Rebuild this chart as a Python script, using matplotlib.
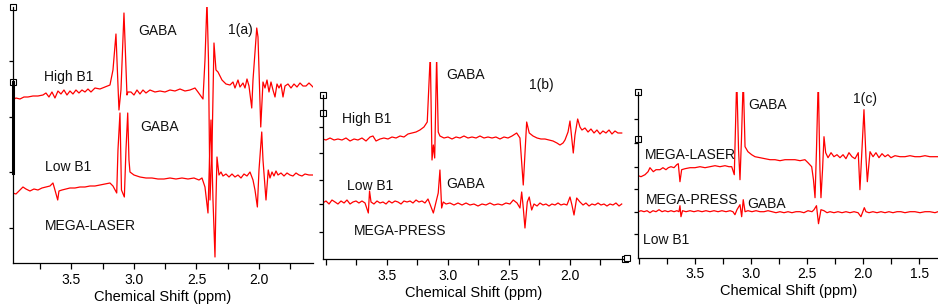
import matplotlib
matplotlib.use('Agg')
import matplotlib.pyplot as plt
from matplotlib.ticker import FixedLocator, FormatStrFormatter

plt.rcParams['font.family'] = ['Liberation Sans', 'DejaVu Sans']

# ---------------- data: (ppm, intensity a.u.) ----------------
# Panel 1(a)  MEGA-LASER, High B1 and Low B1
a_high = [(3.970, 163), (3.944, 165), (3.912, 164), (3.880, 166), (3.848, 166), (3.808, 167),
          (3.768, 167), (3.728, 168), (3.704, 170), (3.680, 166), (3.656, 171), (3.632, 165),
          (3.608, 172), (3.584, 169), (3.560, 173), (3.536, 168), (3.512, 172), (3.488, 169),
          (3.464, 173), (3.440, 170), (3.416, 173), (3.392, 171), (3.368, 174), (3.344, 171),
          (3.312, 175), (3.272, 174), (3.232, 176), (3.192, 178), (3.168, 193), (3.144, 229),
          (3.136, 203), (3.120, 153), (3.104, 173), (3.080, 250), (3.072, 223), (3.056, 168),
          (3.048, 171), (3.024, 171), (3.000, 168), (2.976, 173), (2.952, 169), (2.928, 173),
          (2.904, 170), (2.872, 173), (2.832, 171), (2.792, 172), (2.752, 171), (2.712, 173),
          (2.672, 172), (2.632, 174), (2.592, 172), (2.552, 173), (2.512, 175), (2.488, 171),
          (2.448, 164), (2.432, 203), (2.416, 262), (2.404, 203), (2.392, 63), (2.376, 113),
          (2.360, 220), (2.344, 193), (2.328, 191), (2.296, 183), (2.264, 179), (2.232, 178),
          (2.208, 181), (2.192, 175), (2.168, 183), (2.152, 176), (2.128, 180), (2.112, 175),
          (2.096, 184), (2.080, 177), (2.058, 155), (2.048, 183), (2.018, 235), (2.008, 226),
          (1.986, 136), (1.968, 181), (1.952, 175), (1.936, 183), (1.920, 171), (1.904, 181),
          (1.888, 173), (1.872, 166), (1.856, 179), (1.840, 175), (1.824, 179), (1.808, 166),
          (1.792, 177), (1.768, 179), (1.744, 175), (1.720, 179), (1.696, 176), (1.672, 180),
          (1.648, 177), (1.624, 177), (1.600, 180), (1.568, 176)]

a_low = [(3.970, 70), (3.944, 69), (3.920, 72), (3.888, 76), (3.864, 74), (3.832, 72),
         (3.800, 74), (3.768, 73), (3.736, 75), (3.704, 76), (3.672, 77), (3.648, 80),
         (3.632, 73), (3.610, 63), (3.600, 72), (3.576, 73), (3.544, 74), (3.512, 75),
         (3.472, 75), (3.432, 76), (3.392, 76), (3.352, 77), (3.312, 77), (3.272, 78),
         (3.232, 79), (3.192, 80), (3.168, 77), (3.138, 70), (3.128, 113), (3.112, 150),
         (3.100, 73), (3.077, 66), (3.064, 113), (3.050, 150), (3.040, 103), (3.032, 91),
         (3.000, 88), (2.952, 86), (2.904, 85), (2.856, 85), (2.808, 84), (2.760, 84),
         (2.712, 85), (2.664, 84), (2.616, 85), (2.568, 84), (2.520, 85), (2.480, 83),
         (2.456, 85), (2.432, 76), (2.408, 50), (2.396, 103), (2.384, 143), (2.368, 63),
         (2.352, 6), (2.344, 63), (2.336, 106), (2.320, 88), (2.304, 91), (2.288, 87),
         (2.264, 89), (2.240, 86), (2.216, 89), (2.192, 86), (2.168, 88), (2.144, 85),
         (2.120, 89), (2.096, 87), (2.072, 91), (2.048, 83), (2.032, 73), (2.013, 56),
         (2.000, 93), (1.978, 131), (1.968, 103), (1.944, 63), (1.926, 93), (1.912, 85),
         (1.896, 91), (1.880, 87), (1.864, 92), (1.848, 88), (1.824, 90), (1.800, 87),
         (1.776, 90), (1.752, 88), (1.728, 87), (1.704, 90), (1.680, 88), (1.656, 87),
         (1.632, 89), (1.600, 88), (1.568, 88)]

# Panel 1(b)  MEGA-PRESS, High B1 and Low B1
b_high = [(4.027, 120), (4.000, 119), (3.967, 121), (3.934, 119), (3.902, 120), (3.869, 119),
          (3.836, 121), (3.803, 118), (3.770, 120), (3.738, 119), (3.705, 121), (3.672, 118),
          (3.639, 122), (3.615, 123), (3.590, 118), (3.557, 120), (3.525, 121), (3.492, 120),
          (3.459, 122), (3.426, 121), (3.393, 123), (3.361, 122), (3.328, 125), (3.295, 126),
          (3.262, 127), (3.230, 129), (3.197, 132), (3.170, 137), (3.145, 205), (3.131, 99),
          (3.120, 114), (3.109, 101), (3.093, 203), (3.080, 127), (3.066, 123), (3.033, 121),
          (3.000, 122), (2.967, 120), (2.934, 122), (2.902, 121), (2.869, 123), (2.836, 121),
          (2.803, 122), (2.770, 121), (2.738, 123), (2.705, 121), (2.672, 122), (2.639, 121),
          (2.607, 122), (2.574, 120), (2.541, 122), (2.508, 121), (2.475, 123), (2.437, 126),
          (2.410, 121), (2.383, 74), (2.355, 137), (2.334, 126), (2.303, 123), (2.270, 121),
          (2.238, 120), (2.205, 120), (2.172, 119), (2.139, 118), (2.107, 116), (2.082, 114),
          (2.057, 116), (2.041, 119), (2.016, 127), (2.000, 138), (1.973, 106), (1.959, 124),
          (1.937, 140), (1.918, 132), (1.902, 129), (1.877, 131), (1.852, 127), (1.828, 130),
          (1.803, 126), (1.779, 129), (1.754, 125), (1.730, 128), (1.705, 126), (1.680, 129),
          (1.656, 125), (1.631, 128), (1.607, 126), (1.576, 126)]

b_low = [(4.027, 56), (4.000, 58), (3.975, 55), (3.951, 59), (3.926, 57), (3.902, 55),
         (3.877, 58), (3.852, 56), (3.828, 59), (3.803, 55), (3.779, 57), (3.754, 58),
         (3.730, 56), (3.705, 58), (3.680, 56), (3.653, 46), (3.643, 68), (3.631, 57),
         (3.607, 55), (3.582, 58), (3.557, 56), (3.533, 57), (3.508, 55), (3.484, 58),
         (3.459, 56), (3.434, 58), (3.410, 57), (3.385, 55), (3.361, 58), (3.336, 57),
         (3.311, 58), (3.287, 56), (3.262, 59), (3.238, 57), (3.213, 58), (3.189, 56),
         (3.164, 60), (3.148, 55), (3.120, 46), (3.098, 57), (3.080, 66), (3.066, 89),
         (3.052, 51), (3.039, 57), (3.016, 55), (2.984, 56), (2.951, 54), (2.918, 56),
         (2.885, 54), (2.852, 56), (2.820, 54), (2.787, 55), (2.754, 53), (2.721, 55),
         (2.689, 54), (2.656, 56), (2.623, 54), (2.590, 55), (2.557, 54), (2.525, 56),
         (2.492, 55), (2.465, 59), (2.434, 56), (2.410, 51), (2.396, 67), (2.385, 54),
         (2.369, 31), (2.350, 57), (2.334, 62), (2.314, 49), (2.295, 55), (2.270, 53),
         (2.246, 56), (2.221, 54), (2.197, 55), (2.172, 53), (2.148, 55), (2.123, 54),
         (2.098, 56), (2.074, 54), (2.049, 55), (2.025, 54), (2.000, 62), (1.984, 54),
         (1.967, 44), (1.945, 61), (1.918, 57), (1.893, 54), (1.869, 56), (1.844, 53),
         (1.820, 55), (1.795, 54), (1.770, 56), (1.746, 54), (1.721, 55), (1.697, 53),
         (1.672, 55), (1.648, 54), (1.623, 56), (1.598, 53), (1.576, 55)]

# Panel 1(c)  Low B1, MEGA-LASER and MEGA-PRESS
c_laser = [(4.008, 82), (3.984, 81), (3.948, 83), (3.921, 86), (3.904, 90), (3.874, 86),
           (3.850, 88), (3.814, 88), (3.788, 90), (3.761, 88), (3.740, 90), (3.716, 91),
           (3.689, 90), (3.665, 93), (3.651, 94), (3.636, 76), (3.621, 88), (3.591, 89),
           (3.546, 90), (3.502, 90), (3.457, 91), (3.412, 90), (3.368, 91), (3.323, 92),
           (3.279, 91), (3.234, 92), (3.198, 91), (3.174, 91), (3.151, 83), (3.129, 180),
           (3.113, 108), (3.100, 78), (3.087, 118), (3.071, 180), (3.055, 111), (3.029, 106),
           (2.996, 103), (2.966, 101), (2.921, 100), (2.877, 99), (2.832, 98), (2.787, 98),
           (2.743, 97), (2.698, 98), (2.654, 98), (2.609, 98), (2.564, 97), (2.520, 98),
           (2.493, 95), (2.460, 91), (2.444, 78), (2.430, 60), (2.417, 108), (2.401, 180),
           (2.392, 123), (2.386, 88), (2.377, 60), (2.363, 88), (2.350, 121), (2.335, 105),
           (2.314, 100), (2.287, 105), (2.261, 101), (2.234, 103), (2.207, 100), (2.180, 103),
           (2.154, 99), (2.127, 105), (2.100, 101), (2.073, 99), (2.044, 105), (2.029, 68),
           (2.011, 108), (1.993, 148), (1.975, 100), (1.963, 76), (1.939, 106), (1.912, 101),
           (1.886, 105), (1.859, 100), (1.832, 104), (1.805, 101), (1.779, 103), (1.752, 100),
           (1.716, 102), (1.671, 101), (1.627, 101), (1.582, 102), (1.537, 101), (1.493, 101),
           (1.448, 102), (1.404, 101), (1.359, 101), (1.332, 101)]

c_press = [(4.008, 46), (3.984, 47), (3.957, 46), (3.930, 47), (3.904, 45), (3.877, 47),
           (3.850, 46), (3.823, 48), (3.796, 46), (3.770, 47), (3.743, 46), (3.716, 47),
           (3.689, 46), (3.663, 47), (3.645, 46), (3.636, 52), (3.627, 41), (3.613, 47),
           (3.582, 46), (3.546, 47), (3.511, 46), (3.475, 47), (3.439, 46), (3.404, 47),
           (3.368, 46), (3.332, 47), (3.296, 46), (3.261, 47), (3.225, 46), (3.189, 47),
           (3.163, 46), (3.145, 43), (3.127, 48), (3.100, 53), (3.085, 41), (3.071, 58),
           (3.055, 46), (3.029, 47), (2.993, 46), (2.957, 47), (2.921, 46), (2.886, 46),
           (2.850, 47), (2.814, 46), (2.779, 45), (2.743, 46), (2.707, 45), (2.671, 46),
           (2.636, 45), (2.600, 46), (2.564, 46), (2.529, 45), (2.493, 47), (2.457, 46),
           (2.439, 48), (2.417, 52), (2.399, 34), (2.377, 48), (2.350, 47), (2.323, 45),
           (2.296, 46), (2.261, 45), (2.225, 46), (2.189, 45), (2.154, 46), (2.118, 45),
           (2.082, 46), (2.046, 45), (2.020, 41), (1.990, 50), (1.975, 46), (1.948, 45),
           (1.913, 46), (1.877, 45), (1.841, 46), (1.805, 45), (1.770, 46), (1.734, 45),
           (1.698, 46), (1.663, 46), (1.627, 45), (1.582, 46), (1.538, 46), (1.493, 45),
           (1.448, 46), (1.404, 46), (1.359, 45), (1.332, 46)]

# tick labels
a_labels = [3.5, 3.0, 2.5, 2.0]
b_labels = [3.5, 3.0, 2.5, 2.0]
c_labels = [3.5, 3.0, 2.5, 2.0, 1.5]
a_minor = [3.75, 3.25, 2.75, 2.25, 1.75]
b_minor = [4.0, 3.75, 3.25, 2.75, 2.25, 1.75]
c_minor = [4.0, 3.75, 3.25, 2.75, 2.25, 1.75]

# annotations: (text, ppm, intensity)
a_texts = [("GABA", 2.812, 232), ("1(a)", 2.152, 233), ("High B1", 3.520, 186),
           ("GABA", 2.792, 136), ("Low B1", 3.528, 96), ("MEGA-LASER", 3.352, 37)]
b_texts = [("GABA", 2.852, 184), ("1(b)", 2.238, 174), ("High B1", 3.664, 140),
           ("Low B1", 3.639, 73), ("GABA", 2.852, 75), ("MEGA-PRESS", 3.393, 28)]
c_texts = [("GABA", 2.850, 153), ("1(c)", 1.984, 159), ("MEGA-LASER", 3.546, 103),
           ("MEGA-PRESS", 3.529, 58), ("GABA", 2.859, 54), ("Low B1", 3.761, 18)]

W, H = 938, 306
fig = plt.figure(figsize=(W / 100, H / 100), dpi=100)

RED = '#ff0000'
TXT = '#111111'


def make_axes(px_left, px_right, px_top, px_bottom):
    return fig.add_axes([px_left / W, (H - px_bottom) / H,
                         (px_right - px_left) / W, (px_bottom - px_top) / H])


def style(ax, xlim, ylim, labels, minor, texts, traces, yticks, spine_top=None):
    for tr in traces:
        xs = [p[0] for p in tr]
        ys = [p[1] for p in tr]
        ax.plot(xs, ys, color=RED, lw=0.9)
    ax.set_xlim(*xlim)
    ax.set_ylim(*ylim)
    for s in ('top', 'right'):
        ax.spines[s].set_visible(False)
    for s in ('left', 'bottom'):
        ax.spines[s].set_linewidth(0.9)
        ax.spines[s].set_color('black')
    if spine_top is not None:
        ax.spines['left'].set_bounds(ylim[0], spine_top)
    ax.xaxis.set_major_locator(FixedLocator(labels))
    ax.xaxis.set_minor_locator(FixedLocator(minor))
    ax.xaxis.set_major_formatter(FormatStrFormatter('%.1f'))
    ax.tick_params(axis='x', which='both', direction='out', length=4, width=0.9,
                   labelsize=10, pad=3, colors='black')
    ax.set_yticks(yticks)
    ax.set_yticklabels([])
    ax.tick_params(axis='y', direction='out', length=3, width=0.9)
    ax.set_xlabel('Chemical Shift (ppm)', fontsize=10.5, labelpad=2)
    for t, x, y in texts:
        ax.text(x, y, t, fontsize=10, color=TXT, ha='center', va='center')
    ax.patch.set_alpha(0)


ax_a = make_axes(12.7, 313, 7, 263)
style(ax_a, (3.97, 1.568), (0, 256), a_labels, a_minor, a_texts, [a_high, a_low],
      [202, 146, 91, 35])
ax_b = make_axes(322.7, 625, 62, 259)
style(ax_b, (4.027, 1.549), (0, 197), b_labels, b_minor, b_texts, [b_high, b_low],
      [132, 106, 79, 55, 27], spine_top=164)
ax_c = make_axes(638.3, 938, 92, 257.7)
style(ax_c, (4.008, 1.332), (0, 165.7), c_labels, c_minor, c_texts, [c_laser, c_press],
      [139, 115, 91, 69, 46, 24])

# small hollow square handles drawn by the original plotting program
sq = dict(marker='s', ms=5, mfc='white', mec='black', mew=0.8, ls='none', clip_on=False)
ax_a.plot([0, 0], [1.0, 0.707], transform=ax_a.transAxes, **sq)
ax_a.plot([0, 0], [0.35, 0.707], transform=ax_a.transAxes, color='black', lw=2.2,
          clip_on=False)
ax_b.plot([0, 0, 1], [0.833, 0.741, 0], transform=ax_b.transAxes, **sq)
ax_c.plot([0, 0, -0.037], [1.0, 0.717, 0], transform=ax_c.transAxes, **sq)

fig.savefig('out.png', dpi=100)
